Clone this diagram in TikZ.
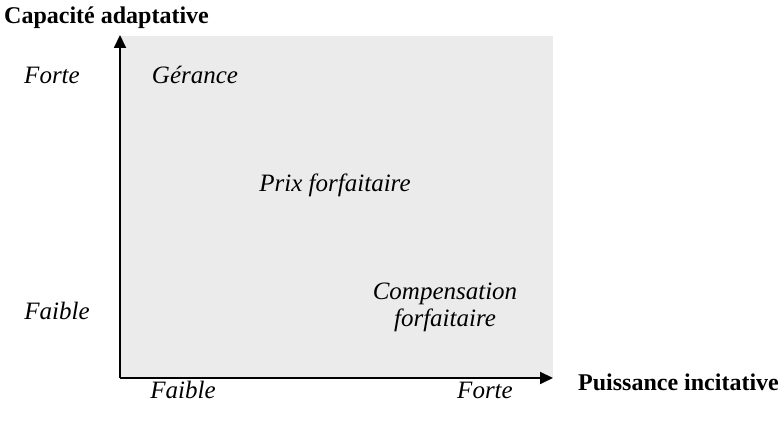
\documentclass[tikz,border=0pt]{standalone}
\usepackage{fontspec}
\setmainfont{Liberation Serif}
\usetikzlibrary{arrows.meta}

\begin{document}
\begin{tikzpicture}[
    x=1pt, y=1pt,
    axe/.style={line width=1.8pt, -{Triangle[length=13pt,width=12pt]}},
    etiquette/.style={font=\fontsize{25}{29}\selectfont\itshape, inner sep=0pt},
    titre/.style={font=\fontsize{24}{28}\selectfont\bfseries, inner sep=0pt},
]
    \useasboundingbox (0,0) rectangle (780,427);

    % zone grise et axes
    \coordinate (origine) at (120,49);
    \coordinate (haut) at (120,392);
    \coordinate (droite) at (553,49);
    \fill[black!8] (origine) rectangle (553,391);
    \draw[axe] (origine) -- (haut);
    \draw[axe] (origine) -- (droite);

    % titres des axes
    \node[titre, anchor=west] (capacite) at (4,409) {Capacité adaptative};
    \node[titre, anchor=west] (puissance) at (578,45) {Puissance incitative};

    % graduations
    \node[etiquette] (yforte) at (52,352) {Forte};
    \node[etiquette] (yfaible) at (57,116) {Faible};
    \node[etiquette] (xfaible) at (183,37) {Faible};
    \node[etiquette] (xforte) at (485,37) {Forte};

    % contrats
    \node[etiquette] (gerance) at (195,352) {Gérance};
    \node[etiquette] (prix) at (335,242) {Prix forfaitaire};
    \node[etiquette, align=center] (compensation) at (445,120) {Compensation\\[-2pt]forfaitaire};
\end{tikzpicture}
\end{document}
